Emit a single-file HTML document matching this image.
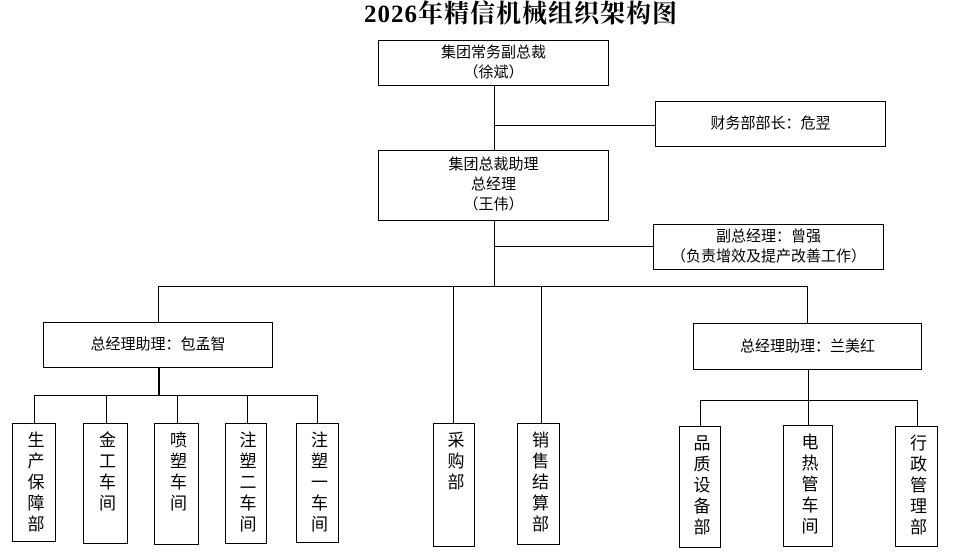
<!DOCTYPE html>
<html><head><meta charset="utf-8"><style>
body{margin:0;width:960px;height:553px;background:#fff;position:relative;overflow:hidden;font-family:"Liberation Sans","Noto Sans CJK SC",sans-serif;}
.b{position:absolute;border:1px solid #000;box-sizing:border-box;background:#fff;text-align:center;font-size:15px;line-height:20px;color:#000;}
.v{writing-mode:vertical-rl;text-orientation:upright;display:flex;align-items:center;justify-content:flex-start;padding-top:7px;font-size:17px;letter-spacing:4px;line-height:17px;white-space:nowrap}
.h{position:absolute;height:1px;background:#000}
.l{position:absolute;width:1px;background:#000}
</style></head><body>
<div style="position:absolute;left:0;width:1042px;top:-1px;text-align:center;font:bold 25px 'Liberation Serif','Noto Serif CJK SC',serif;letter-spacing:1px;line-height:32px">2026年精信机械组织架构图</div>
<div class="l" style="left:494px;top:86px;height:200px"></div>
<div class="h" style="left:494px;top:125px;width:161px"></div>
<div class="h" style="left:494px;top:246px;width:159px"></div>
<div class="h" style="left:158px;top:286px;width:650px"></div>
<div class="l" style="left:158px;top:286px;height:36px"></div>
<div class="l" style="left:453px;top:286px;height:137px"></div>
<div class="l" style="left:541px;top:286px;height:137px"></div>
<div class="l" style="left:807px;top:286px;height:37px"></div>
<div class="l" style="left:158px;top:368px;width:2px;height:27px"></div>
<div class="h" style="left:34px;top:395px;width:284px"></div>
<div class="l" style="left:34px;top:395px;height:28px"></div>
<div class="l" style="left:106px;top:395px;height:28px"></div>
<div class="l" style="left:177px;top:395px;height:28px"></div>
<div class="l" style="left:247px;top:395px;height:28px"></div>
<div class="l" style="left:317px;top:395px;height:28px"></div>
<div class="l" style="left:808px;top:370px;height:56px"></div>
<div class="h" style="left:700px;top:400px;width:218px"></div>
<div class="l" style="left:700px;top:400px;height:26px"></div>
<div class="l" style="left:917px;top:400px;height:26px"></div>
<div class="b" style="left:378px;top:40px;width:231px;height:46px;padding-top:2px">集团常务副总裁<br>（徐斌）</div>
<div class="b" style="left:655px;top:101px;width:231px;height:46px;line-height:44px">财务部部长：危翌</div>
<div class="b" style="left:378px;top:150px;width:231px;height:71px;padding-top:4px">集团总裁助理<br>总经理<br>（王伟）</div>
<div class="b" style="left:653px;top:224px;width:231px;height:46px;padding-top:2px">副总经理：曾强<br>（负责增效及提产改善工作）</div>
<div class="b" style="left:43px;top:322px;width:230px;height:46px;line-height:44px">总经理助理：包孟智</div>
<div class="b" style="left:693px;top:323px;width:229px;height:47px;line-height:45px">总经理助理：兰美红</div>
<div class="b v" style="left:12px;top:423px;width:44px;height:119px">生产保障部</div>
<div class="b v" style="left:83px;top:423px;width:45px;height:121px">金工车间</div>
<div class="b v" style="left:154px;top:423px;width:45px;height:122px">喷塑车间</div>
<div class="b v" style="left:225px;top:423px;width:42px;height:121px">注塑二车间</div>
<div class="b v" style="left:296px;top:423px;width:43px;height:120px">注塑一车间</div>
<div class="b v" style="left:433px;top:423px;width:42px;height:124px">采购部</div>
<div class="b v" style="left:517px;top:423px;width:43px;height:122px">销售结算部</div>
<div class="b v" style="left:679px;top:426px;width:42px;height:122px">品质设备部</div>
<div class="b v" style="left:783px;top:425px;width:50px;height:122px">电热管车间</div>
<div class="b v" style="left:895px;top:426px;width:43px;height:121px">行政管理部</div>
</body></html>
